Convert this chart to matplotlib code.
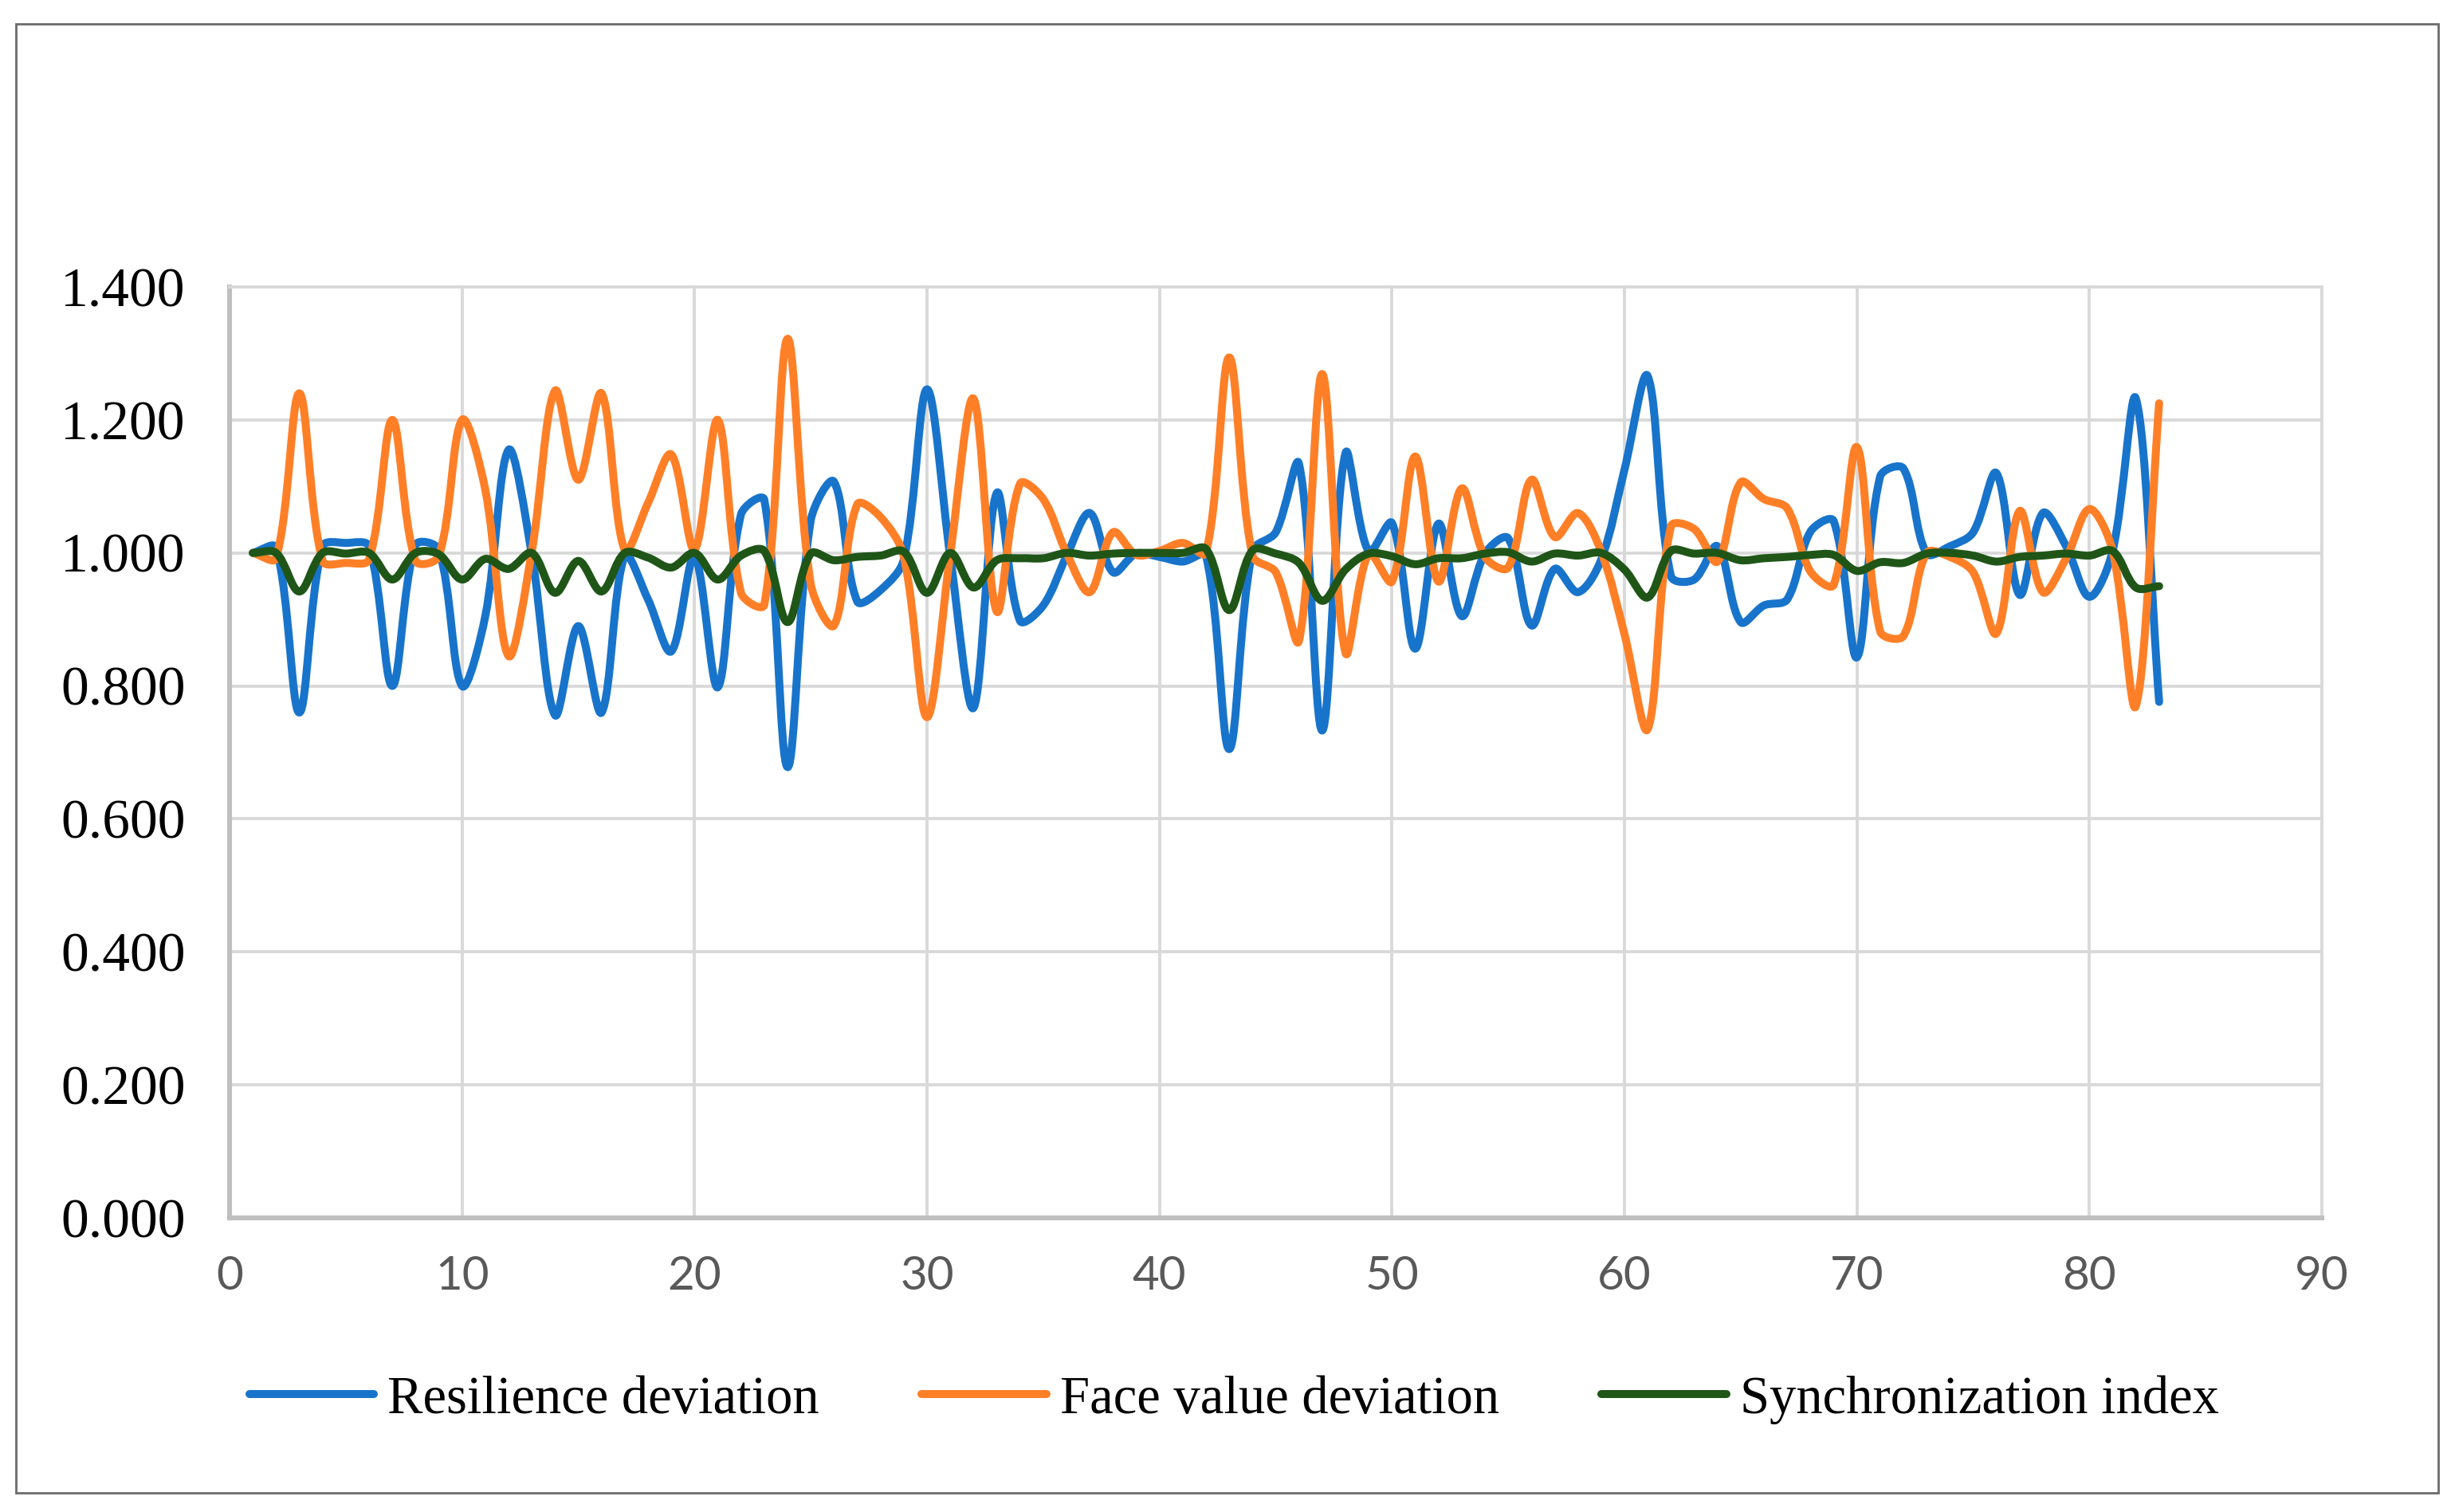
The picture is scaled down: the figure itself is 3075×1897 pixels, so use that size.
import matplotlib
matplotlib.use("Agg")
import matplotlib.pyplot as plt
from matplotlib.path import Path
from matplotlib.patches import PathPatch, Rectangle
from matplotlib.lines import Line2D

# ---------------- data ----------------
x_values = list(range(1, 84))

resilience_deviation = [
    1.000, 1.008, 0.760, 1.010, 1.015, 1.010, 0.800, 1.012, 1.005, 0.800,
    0.905, 1.155, 0.998, 0.756, 0.890, 0.760, 0.996, 0.930, 0.852, 0.995,
    0.798, 1.058, 1.080, 0.678, 1.049, 1.107, 0.927, 0.944, 0.990, 1.246,
    0.995, 0.767, 1.090, 0.898, 0.921, 0.995, 1.060, 0.971, 0.999, 0.994,
    0.987, 0.996, 0.705, 1.003, 1.031, 1.134, 0.733, 1.150, 1.002, 1.045,
    0.856, 1.044, 0.905, 0.999, 1.022, 0.891, 0.976, 0.941, 0.990, 1.125,
    1.266, 0.965, 0.960, 1.010, 0.896, 0.921, 0.930, 1.032, 1.048, 0.843,
    1.115, 1.127, 0.999, 1.010, 1.031, 1.120, 0.937, 1.060, 1.010, 0.934,
    1.003, 1.232, 0.776,
]

face_value_deviation = [
    1.000, 0.992, 1.240, 0.988, 0.985, 0.990, 1.200, 0.988, 0.995, 1.200,
    1.095, 0.845, 1.002, 1.244, 1.110, 1.240, 1.004, 1.075, 1.148, 1.005,
    1.200, 0.940, 0.922, 1.322, 0.953, 0.891, 1.073, 1.054, 0.995, 0.753,
    0.998, 1.232, 0.912, 1.104, 1.081, 1.000, 0.941, 1.031, 0.997, 1.003,
    1.015, 1.000, 1.294, 0.996, 0.971, 0.868, 1.269, 0.850, 0.999, 0.957,
    1.145, 0.957, 1.097, 0.994, 0.978, 1.110, 1.024, 1.060, 1.002, 0.878,
    0.735, 1.040, 1.036, 0.987, 1.106, 1.081, 1.067, 0.972, 0.952, 1.159,
    0.882, 0.875, 1.000, 0.994, 0.971, 0.879, 1.063, 0.941, 0.992, 1.066,
    1.003, 0.770, 1.225,
]

synchronization_index = [
    1.000, 1.000, 0.942, 1.000, 0.999, 1.000, 0.960, 1.000, 0.998, 0.960,
    0.991, 0.976, 1.000, 0.940, 0.988, 0.942, 1.000, 0.993, 0.978, 1.000,
    0.960, 0.996, 1.003, 0.896, 0.999, 0.989, 0.994, 0.996, 1.002, 0.940,
    1.000, 0.948, 0.989, 0.992, 0.992, 1.000, 0.996, 0.999, 1.000, 1.000,
    1.000, 1.006, 0.914, 1.004, 0.999, 0.985, 0.928, 0.975, 0.999, 0.995,
    0.983, 0.992, 0.992, 0.999, 1.001, 0.987, 0.999, 0.996, 1.000, 0.975,
    0.933, 1.003, 0.999, 1.000, 0.989, 0.992, 0.994, 0.997, 0.997, 0.973,
    0.986, 0.985, 0.999, 1.000, 0.996, 0.987, 0.994, 0.996, 0.999, 0.996,
    1.003, 0.948, 0.950,
]

series_names = ["Resilience deviation", "Face value deviation", "Synchronization index"]
series_colors = ["#1874CB", "#FF7F27", "#1F5618"]

x_ticks = list(range(0, 91, 10))
y_ticks = [0.0, 0.2, 0.4, 0.6, 0.8, 1.0, 1.2, 1.4]

# ---------------- figure ----------------
W, H = 3075, 1897
DPI = 200
fig = plt.figure(figsize=(W / DPI, H / DPI), dpi=DPI)
fig.patch.set_facecolor("white")

# outer chart border
fig.patches.append(Rectangle((20 / W, 1 - 1873 / H), (3059 - 20) / W, (1873 - 30) / H,
                             transform=fig.transFigure, fill=False,
                             edgecolor="#6B6B6B", linewidth=1.0, zorder=0))

left, right = 288 / W, 2913 / W
bottom, top = 1 - 1528 / H, 1 - 360 / H
ax = fig.add_axes([left, bottom, right - left, top - bottom])

ax.set_xlim(0, 90)
ax.set_ylim(0, 1.4)
ax.set_xticks(x_ticks)
ax.set_yticks(y_ticks)
ax.set_yticklabels([f"{v:.3f}" for v in y_ticks])

# pixel scale of the data axes (for Excel-like, length-weighted smoothing)
px_per_x = (2913 - 288) / 90.0
px_per_y = (1528 - 360) / 1.4


def smooth_path(xs, ys):
    """Excel-like smoothed line: cubic Bezier through every data point,
    tangents weighted by the on-screen lengths of the adjacent segments."""
    n = len(xs)
    P = [(xs[i] * px_per_x, ys[i] * px_per_y) for i in range(n)]

    def dist(a, b):
        return ((a[0] - b[0]) ** 2 + (a[1] - b[1]) ** 2) ** 0.5

    f = 1.0 / 6.0
    outs, ins = [], []
    for i in range(n):
        a = P[i - 1] if i > 0 else P[i]
        b = P[i + 1] if i < n - 1 else P[i]
        tx, ty = b[0] - a[0], b[1] - a[1]
        dp = dist(a, P[i])
        dn = dist(P[i], b)
        s = dp + dn
        if s == 0:
            wo = wi = 0.0
        else:
            wo = 2 * dn / s
            wi = 2 * dp / s
        outs.append((P[i][0] + tx * f * wo, P[i][1] + ty * f * wo))
        ins.append((P[i][0] - tx * f * wi, P[i][1] - ty * f * wi))

    def back(p):
        return (p[0] / px_per_x, p[1] / px_per_y)

    verts = [(xs[0], ys[0])]
    codes = [Path.MOVETO]
    for i in range(n - 1):
        verts += [back(outs[i]), back(ins[i + 1]), (xs[i + 1], ys[i + 1])]
        codes += [Path.CURVE4] * 3
    return Path(verts, codes)


grid_color = "#D9D9D9"
ax.grid(True, color=grid_color, linewidth=1.4, zorder=0)
ax.set_axisbelow(True)
for s in ["top", "right"]:
    ax.spines[s].set_color(grid_color)
    ax.spines[s].set_linewidth(1.4)
for s in ["left", "bottom"]:
    ax.spines[s].set_color("#BFBFBF")
    ax.spines[s].set_linewidth(2.2)

ax.tick_params(axis="both", length=0)
ax.tick_params(axis="y", pad=20)
ax.tick_params(axis="x", pad=17)
for lab in ax.get_yticklabels():
    lab.set_fontfamily(["Liberation Serif", "DejaVu Serif"])
    lab.set_fontsize(25)
    lab.set_color("black")
for lab in ax.get_xticklabels():
    lab.set_fontfamily(["Lato", "DejaVu Sans"])
    lab.set_fontsize(21)
    lab.set_color("#595959")

lw = 3.6
all_series = [resilience_deviation, face_value_deviation, synchronization_index]
handles = []
for name, col, ys in zip(series_names, series_colors, all_series):
    patch = PathPatch(smooth_path(x_values, ys), fill=False, edgecolor=col,
                      linewidth=lw, capstyle="round", joinstyle="round", zorder=3)
    ax.add_patch(patch)
    handles.append(Line2D([], [], color=col, linewidth=lw, solid_capstyle="round"))

fig.legend(handles, series_names, loc="center", bbox_to_anchor=(0.5035, 1 - 1756 / H),
           ncol=3, frameon=False, handlelength=2.35, handletextpad=0.25,
           columnspacing=1.93,
           prop={"family": ["Liberation Serif", "DejaVu Serif"], "size": 24})

fig.savefig("out.png", dpi=DPI, facecolor="white")
